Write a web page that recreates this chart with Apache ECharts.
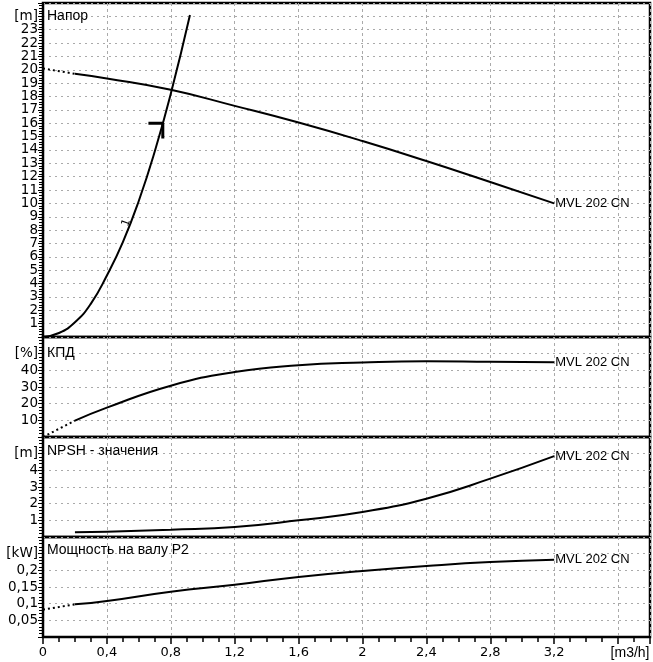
<!DOCTYPE html>
<html>
<head>
<meta charset="utf-8">
<script src="https://cdn.jsdelivr.net/npm/echarts@6/dist/echarts.min.js"></script>
<style>
	html, body { margin: 0; padding: 0; background: #fff; }
	#chart { width: 653px; height: 662px; }
</style>
</head>
<body>
<div id="chart"></div>
<script>
//	данные кривых (Q, m3/h)
var headDotted = [[0, 20.1], [0.2, 19.7]];
var headCurve = [[0.2, 19.7], [0.4, 19.35], [0.8, 18.5], [1.2, 17.3], [1.6, 16.05], [2.0, 14.67], [2.4, 13.17], [2.8, 11.6], [3.2, 10.0]];
var systemCurve = [[0, 0], [0.1, 0.3], [0.2, 1.1], [0.3, 2.5], [0.4, 4.6], [0.5, 7.1], [0.6, 10.2], [0.7, 13.9], [0.8, 18.2], [0.92, 24.1]];
var systemLabelAt = [0.55, 8.8];
var dutyMark = [[0.66, 16], [0.75, 16], [0.75, 14.85]];
var effDotted = [[0, 0], [0.2, 9.8]];
var effCurve = [[0.2, 9.8], [0.4, 17.6], [0.8, 30.8], [1.2, 39], [1.6, 43], [2.0, 44.7], [2.4, 45.5], [2.8, 45.1], [3.2, 44.8]];
var npshCurve = [[0.2, 0.29], [0.4, 0.32], [0.8, 0.44], [1.2, 0.6], [1.6, 1.0], [2.0, 1.5], [2.4, 2.3], [2.8, 3.5], [3.2, 4.85]];
var powerDotted = [[0, 0.082], [0.2, 0.098]];
var powerCurve = [[0.2, 0.098], [0.4, 0.108], [0.8, 0.136], [1.2, 0.157], [1.6, 0.18], [2.0, 0.198], [2.4, 0.213], [2.8, 0.225], [3.2, 0.232]];

var panelTitles = ['Напор', 'КПД', 'NPSH - значения', 'Мощность на валу P2'];
var yUnits = ['[m]', '[%]', '[m]', '[kW]'];
var yMax = [25, 60, 6, 0.3];
var yStep = [1, 10, 1, 0.05];
var xUnit = '[m3/h]';
var pumpName = 'MVL 202 CN';

var gridTop = [3, 337, 437, 537];
var gridHeight = [334, 100, 100, 100];
var titleTop = [9, 346, 444, 543];

function num(v) {
	return String(+v.toFixed(2)).replace('.', ',');
}

var grids = [], xAxes = [], yAxes = [], titles = [];
for (var i = 0; i < 4; i++) {
	grids.push({
		left: 43, right: 3, top: gridTop[i], height: gridHeight[i],
		show: true, borderColor: '#000', borderWidth: 2.5
	});
	titles.push({
		text: panelTitles[i], left: 47, top: titleTop[i], padding: 0,
		textStyle: { fontFamily: 'Liberation Sans', fontSize: 14, fontWeight: 'normal', color: '#000' }
	});
	var last = i == 3;
	xAxes.push({
		type: 'value', gridIndex: i, min: 0, max: 3.8, interval: 0.4,
		axisLine: { show: last, onZero: false, lineStyle: { color: '#000', width: 2 } },
		axisTick: { show: last, length: 7, lineStyle: { color: '#000', width: 1.5 } },
		minorTick: { show: last, splitNumber: 4, length: 5, lineStyle: { color: '#000', width: 1.5 } },
		axisLabel: {
			show: last, margin: 9, color: '#000', fontFamily: 'DejaVu Sans', fontSize: 13,
			formatter: function (v) {
				if (Math.abs(v - 3.6) < 1e-6) return '{u|' + xUnit + '}';
				return num(v);
			},
			rich: { u: { fontFamily: 'Liberation Sans', fontSize: 14, color: '#000', padding: [0, 0, 0, 24] } }
		},
		splitLine: { show: true, lineStyle: { color: '#aaa', type: [3, 3], width: 1 } }
	});
	(function (k) {
		yAxes.push({
			type: 'value', gridIndex: k, min: 0, max: yMax[k], interval: yStep[k],
			axisLine: { show: true, lineStyle: { color: '#000', width: 2 } },
			axisTick: { show: true, length: 5, lineStyle: { color: '#000' } },
			minorTick: { show: true, splitNumber: 5, length: 4, lineStyle: { color: '#000' } },
			axisLabel: {
				margin: 5, color: '#000', fontFamily: 'DejaVu Sans', fontSize: 13.5,
				formatter: function (v) {
					if (Math.abs(v - (yMax[k] - yStep[k])) < 1e-6) return yUnits[k];
					if (v == 0 || Math.abs(v - yMax[k]) < 1e-6) return '';
					return num(v);
				}
			},
			splitLine: { show: true, lineStyle: { color: '#aaa', type: [2, 4], width: 1 } }
		});
	})(i);
}

var endLbl = {
	show: true, formatter: pumpName, distance: 1, color: '#000',
	fontFamily: 'Liberation Sans', fontSize: 13
};
function line(idx, data, opts) {
	var s = {
		type: 'line', xAxisIndex: idx, yAxisIndex: idx, data: data,
		symbol: 'none', smooth: true, silent: true,
		lineStyle: { color: '#000', width: 2 }
	};
	for (var key in opts) s[key] = opts[key];
	return s;
}

var chart = echarts.init(document.getElementById('chart'));
chart.setOption({
	animation: false,
	backgroundColor: '#fff',
	title: titles,
	grid: grids,
	xAxis: xAxes,
	yAxis: yAxes,
	series: [
		line(0, headDotted, { smooth: false, lineStyle: { color: '#000', width: 2, type: [2, 3] } }),
		line(0, headCurve, { endLabel: endLbl }),
		line(0, systemCurve, {
			markPoint: {
				symbol: 'circle', symbolSize: 1, itemStyle: { color: 'transparent' },
				label: { show: true, formatter: '1', position: 'left', distance: 3, rotate: 70, color: '#000', fontFamily: 'DejaVu Sans', fontSize: 11 },
				data: [{ coord: systemLabelAt }]
			}
		}),
		line(0, dutyMark, { smooth: false, lineStyle: { color: '#000', width: 3 } }),
		line(1, effDotted, { smooth: false, lineStyle: { color: '#000', width: 2, type: [2, 3] } }),
		line(1, effCurve, { endLabel: endLbl }),
		line(2, npshCurve, { endLabel: endLbl }),
		line(3, powerDotted, { smooth: false, lineStyle: { color: '#000', width: 2, type: [2, 3] } }),
		line(3, powerCurve, { endLabel: endLbl })
	]
});
</script>
</body>
</html>
